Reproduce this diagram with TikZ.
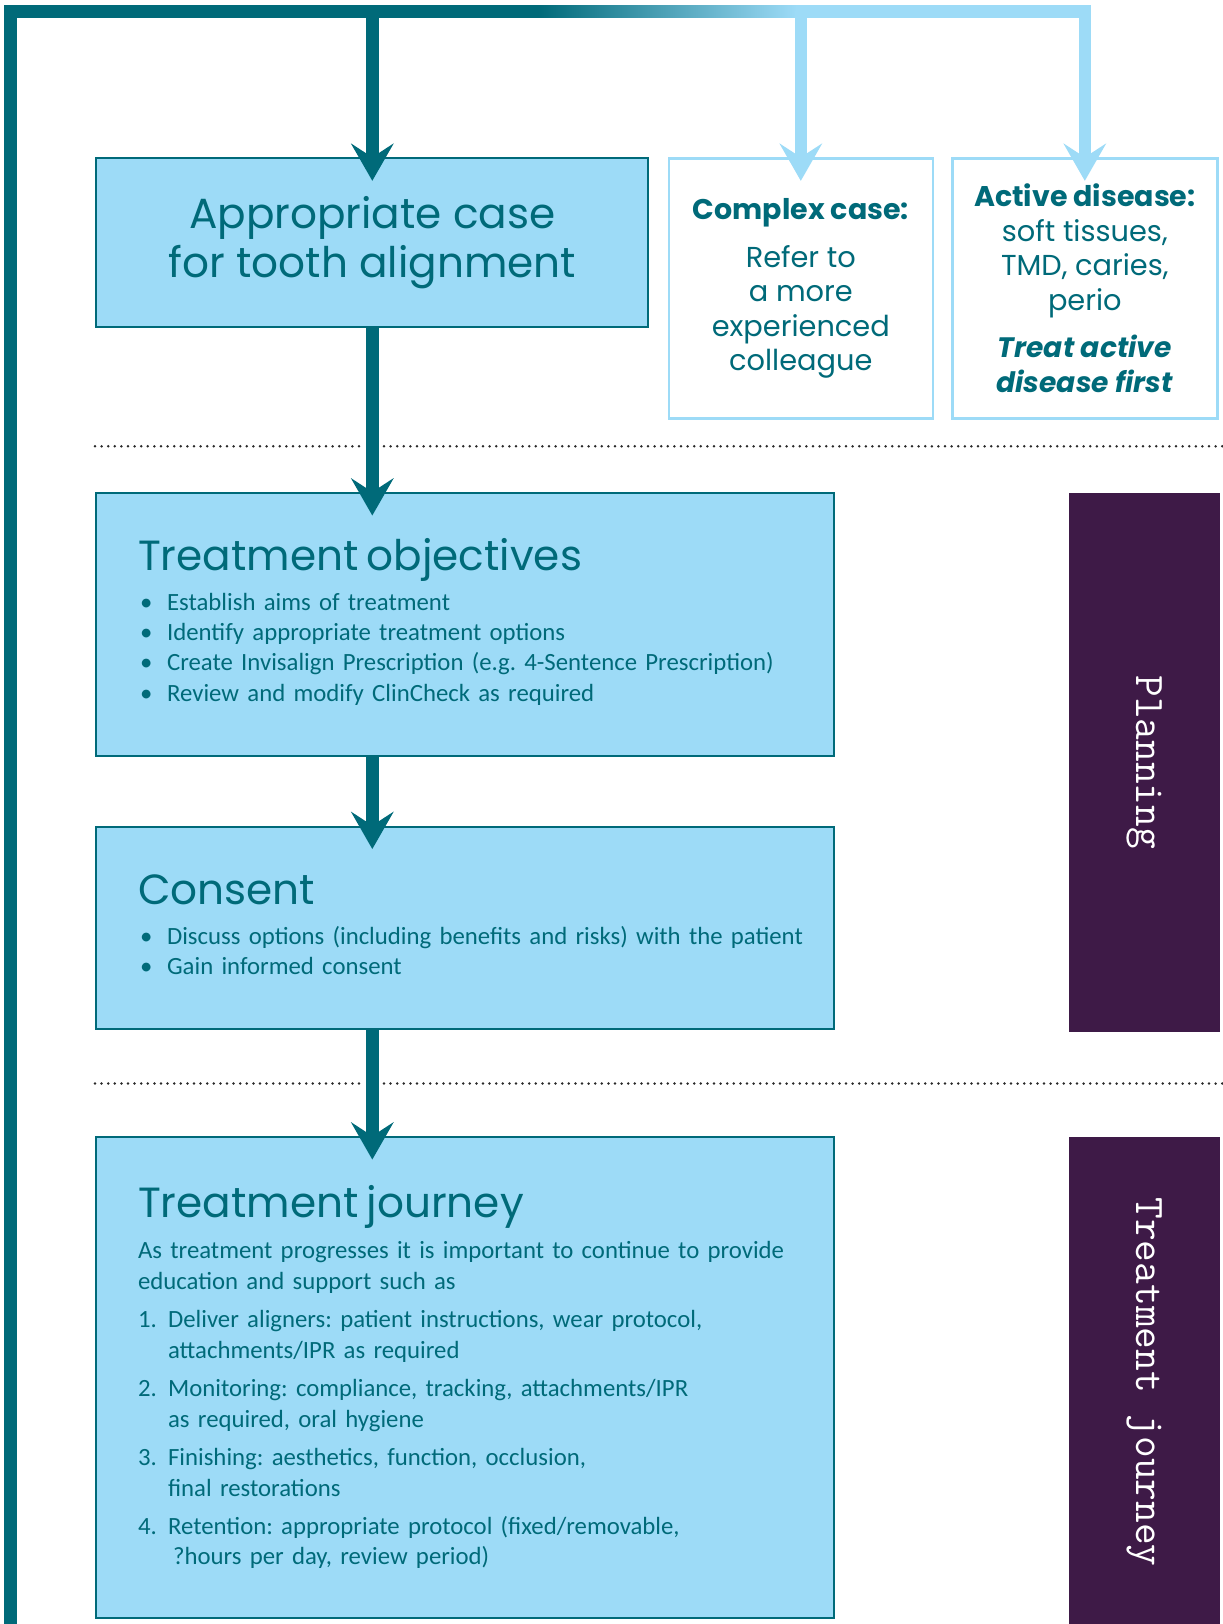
\documentclass[tikz,border=0pt]{standalone}
\usepackage{fontspec}
\setmainfont{Carlito}
\newfontfamily\headfont{Poppins}
\newfontfamily\bodyfont[WordSpace=0.82]{Carlito}
\usetikzlibrary{arrows.meta,positioning,calc}

\definecolor{tealdark}{RGB}{0,106,121}
\definecolor{skyblue}{RGB}{157,219,247}
\definecolor{plum}{RGB}{62,26,71}
\definecolor{dotgrey}{RGB}{40,40,40}

\newcommand{\boxhead}[1]{{\headfont\fontsize{24}{28}\selectfont #1}}
\newcommand{\sidehead}[1]{{\bfseries\fontsize{16.2}{19.6}\selectfont #1}}
\newcommand{\sidenote}[1]{{\bfseries\itshape\fontsize{16}{19.6}\selectfont #1}}
\newcommand{\bulletline}[1]{\makebox[5.8mm][l]{\hspace{0.4mm}\textbullet}#1}
\newcommand{\stepline}[3]{\makebox[6mm][l]{#1}#2\\\hspace*{6mm}#3}

\begin{document}
\begin{tikzpicture}[
  x=0.2mm, y=0.2mm,
  mainbox/.style={
    draw=tealdark,
    line width=0.4mm,
    fill=skyblue,
    inner sep=0pt,
    outer sep=0pt
  },
  sidebox/.style={
    draw=skyblue,
    line width=0.5mm,
    fill=white,
    inner sep=0pt,
    outer sep=0pt,
    minimum height=52mm,
    align=center,
    text=tealdark,
    font=\headfont\fontsize{16.4}{19.6}\selectfont
  },
  tab/.style={fill=plum, inner sep=0pt, outer sep=0pt, minimum width=30.2mm},
  tablabel/.style={rotate=-90, text=white, font=\ttfamily\fontsize{24}{28}\selectfont},
  boxtext/.style={
    anchor=base west,
    inner sep=0pt,
    text width=140mm,
    align=left,
    text=tealdark,
    font=\bodyfont\frenchspacing\fontsize{14.1}{17.3}\selectfont
  },
  flow/.style={line width=2.48mm, -{Stealth[length=7.5mm, width=8.6mm, inset=2.8mm, line width=0pt]}, shorten >=-4.5mm},
  darkflow/.style={flow, draw=tealdark},
  lightflow/.style={flow, draw=skyblue},
  rule/.style={draw=dotgrey, line width=0.55mm, line cap=round, dash pattern=on 0pt off 1.32mm}
]
\useasboundingbox (0,0) rectangle (1223,-1624);

% Top row: case selection
\node[mainbox, minimum width=110.4mm, minimum height=33.8mm, align=center, text=tealdark,
  font=\headfont\fontsize{24}{27.9}\selectfont] (appr) at (372.3,-242.8)
  {Appropriate case\\for tooth alignment};
\node[sidebox, minimum width=52.8mm, below right=0mm and 4.1mm of appr.north east] (complex)
  {\sidehead{Complex case:}\\[8pt]Refer to\\a more\\experienced\\colleague};
\node[sidebox, minimum width=53mm, right=3.9mm of complex] (active)
  {\sidehead{Active disease:}\\soft tissues,\\TMD, caries,\\perio\\[7.5pt]
   \sidenote{Treat active}\\\sidenote{disease first}};

% Planning stage
\node[mainbox, minimum width=147.5mm, minimum height=52.6mm] (objectives) at (465,-624.5) {};
\node[mainbox, minimum width=147.5mm, minimum height=40.4mm, below=14.1mm of objectives] (consent) {};
\node[tab, minimum height=107.7mm, below right=0mm and 47mm of objectives.north east] (planning) {};
\node[tablabel] (planlabel) at (planning) {Planning};

% Treatment stage
\node[mainbox, minimum width=147.5mm, minimum height=96.1mm, below=21.7mm of consent] (journey) {};
\node[tab, minimum height=100mm, below right=0mm and 47mm of journey.north east] (journeytab) {};
\node[tablabel] (journeylabel) at ([yshift=1mm]journeytab) {Treatment journey};

\node[boxtext] (objtext) at ([shift={(8.3mm,-15.5mm)}]objectives.north west) {%
  \boxhead{Treatment objectives}\\[5.2pt]
  \bulletline{Establish aims of treatment}\\
  \bulletline{Identify appropriate treatment options}\\
  \bulletline{Create Invisalign Prescription (e.g. 4-Sentence Prescription)}\\
  \bulletline{Review and modify ClinCheck as required}};
\node[boxtext] (consenttext) at ([shift={(8.3mm,-15.5mm)}]consent.north west) {%
  \boxhead{Consent}\\[5.5pt]
  \bulletline{Discuss options (including benefits and risks) with the patient}\\
  \bulletline{Gain informed consent}};
\node[boxtext] (journeytext) at ([shift={(8.3mm,-16.1mm)}]journey.north west) {%
  \boxhead{Treatment journey}\\[6.3pt]
  As treatment progresses it is important to continue to provide\\
  education and support such as\\[4.6pt]
  \stepline{1.}{Deliver aligners: patient instructions, wear protocol,}{attachments/IPR as required}\\[4.6pt]
  \stepline{2.}{Monitoring: compliance, tracking, attachments/IPR}{as required, oral hygiene}\\[4.6pt]
  \stepline{3.}{Finishing: aesthetics, function, occlusion,}{final restorations}\\[4.6pt]
  \stepline{4.}{Retention: appropriate protocol (fixed/removable,}{\hspace{1mm}?hours per day, review period)}};

% Stage dividers
\coordinate (r1a) at (95,-446.3);
\coordinate (r1b) at (362,-446.3);
\coordinate (r1c) at (384,-446.3);
\coordinate (r1d) at (1223,-446.3);
\coordinate (r2a) at (95,-1083.5);
\coordinate (r2b) at (362,-1083.5);
\coordinate (r2c) at (384,-1083.5);
\coordinate (r2d) at (1223,-1083.5);
\draw[rule] (r1a) -- (r1b);
\draw[rule] (r1c) -- (r1d);
\draw[rule] (r2a) -- (r2b);
\draw[rule] (r2c) -- (r2d);

% Return loop and branch bar
\coordinate (corner) at (10.4,-11.4);
\coordinate (foot) at (10.4,-1640);
\coordinate (fadeL) at (538,-11.4);
\coordinate (fadeR) at (797,-11.4);
\draw[line width=2.48mm, tealdark] (foot) -- (corner) -- (fadeL);
\shade[left color=tealdark, right color=skyblue] ([yshift=-1.24mm]fadeL) rectangle ([yshift=1.24mm]fadeR);
\draw[lightflow] ([xshift=-0.2mm]fadeR) -| (active.north);
\draw[lightflow] (complex.north |- fadeR) -- (complex.north);
\draw[darkflow] (appr.north |- corner) -- (appr.north);

% Main flow
\draw[darkflow] (appr.south) -- (appr.south |- objectives.north);
\draw[darkflow] (appr.south |- objectives.south) -- (appr.south |- consent.north);
\draw[darkflow] (appr.south |- consent.south) -- (appr.south |- journey.north);

\end{tikzpicture}
\end{document}
